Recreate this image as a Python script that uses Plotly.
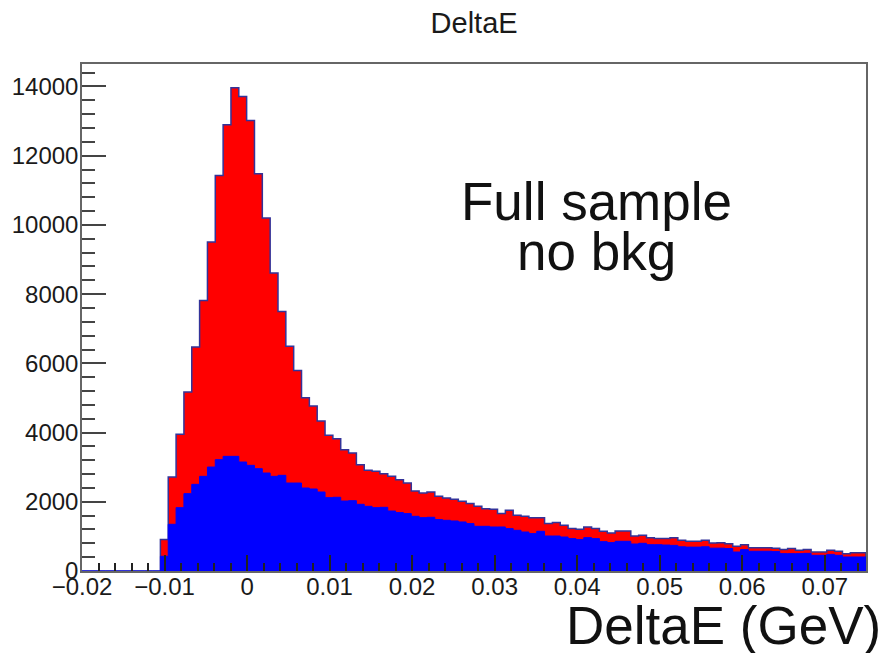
import numpy as np
import plotly.graph_objects as go

# Histogram binning (100 bins from -0.02 to 0.075)
x_min = -0.02
x_max = 0.075
n_bins = 100

# Total (red) bin contents, bins 0..99
total_counts = [0] * 10 + [
    907, 2716, 3949, 5171, 6471, 7819, 9503, 11430, 12894, 13963,
    13712, 13018, 11478, 10197, 8608, 7501, 6491, 5797, 5008, 4767,
    4333, 3920, 3824, 3507, 3408, 3073, 2909, 2880, 2813, 2735,
    2640, 2542, 2311, 2253, 2282, 2158, 2109, 2071, 2013, 1947,
    1869, 1802, 1782, 1658, 1753, 1609, 1580, 1542, 1542, 1369,
    1398, 1320, 1225, 1205, 1272, 1225, 1147, 1098, 1156, 1156,
    1011, 1031, 964, 936, 936, 964, 887, 858, 858, 887,
    809, 815, 790, 713, 761, 675, 675, 675, 660, 618,
    648, 598, 618, 549, 549, 598, 570, 502, 530, 530,
]

# Component (blue) bin contents, bins 0..99
blue_counts = [0] * 10 + [
    425, 1349, 1831, 2235, 2504, 2735, 3004, 3216, 3313, 3313,
    3149, 3053, 2957, 2831, 2735, 2764, 2542, 2542, 2398, 2369,
    2282, 2120, 2130, 2022, 2032, 1927, 1869, 1831, 1840, 1733,
    1687, 1658, 1580, 1542, 1552, 1485, 1465, 1446, 1417, 1369,
    1291, 1291, 1272, 1272, 1225, 1176, 1127, 1080, 1147, 1011,
    1011, 982, 936, 907, 964, 936, 848, 820, 858, 858,
    780, 800, 760, 760, 750, 740, 700, 690, 690, 700,
    660, 660, 648, 549, 618, 570, 570, 570, 560, 502,
    502, 502, 510, 453, 453, 480, 453, 405, 405, 405,
]

x_tick_vals = [-0.02, -0.01, 0, 0.01, 0.02, 0.03, 0.04, 0.05, 0.06, 0.07]
x_tick_text = ["\u22120.02", "\u22120.01", "0", "0.01", "0.02", "0.03", "0.04", "0.05", "0.06", "0.07"]
y_tick_vals = [0, 2000, 4000, 6000, 8000, 10000, 12000, 14000]
y_tick_text = ["0", "2000", "4000", "6000", "8000", "10000", "12000", "14000"]

edges = np.linspace(x_min, x_max, n_bins + 1)


def step_xy(counts):
    c = np.asarray(counts, dtype=float)
    xs = np.concatenate([[edges[0]], edges, [edges[-1]]])
    ys = np.concatenate([[0.0], c, [c[-1]], [0.0]])
    return xs, ys


fig = go.Figure()

xr, yr = step_xy(total_counts)
fig.add_trace(go.Scatter(
    x=xr, y=yr, mode="lines", line_shape="hv",
    line=dict(color="#333399", width=1.5),
    fill="tozeroy", fillcolor="#ff0000", hoverinfo="skip", showlegend=False,
))

xb, yb = step_xy(blue_counts)
fig.add_trace(go.Scatter(
    x=xb, y=yb, mode="lines", line_shape="hv",
    line=dict(color="#0000ff", width=1),
    fill="tozeroy", fillcolor="#0000ff", hoverinfo="skip", showlegend=False,
))

font_family = "Liberation Sans, Arial, Helvetica, sans-serif"

fig.update_layout(
    width=887, height=653,
    margin=dict(l=82, r=21, t=64, b=82),
    paper_bgcolor="white", plot_bgcolor="white",
    font=dict(family=font_family, color="#1a1a1a", size=24),
    title=dict(text="DeltaE", x=0.5345, xanchor="center", y=0.965, yanchor="middle",
               font=dict(size=29, color="#1a1a1a")),
    xaxis=dict(
        range=[x_min, x_max], tickmode="array", tickvals=x_tick_vals, ticktext=x_tick_text,
        ticks="inside", ticklen=16, tickwidth=1.5, tickcolor="#222",
        minor=dict(dtick=0.002, tick0=0, ticks="inside", ticklen=8, tickwidth=1.5, tickcolor="#222"),
        showline=True, linecolor="#666", linewidth=1.5, mirror=True,
        showgrid=False, zeroline=False, tickfont=dict(size=24),
        automargin=False, ticklabelstandoff=-7,
    ),
    yaxis=dict(
        range=[0, 14650], tickmode="array", tickvals=y_tick_vals, ticktext=y_tick_text,
        ticks="inside", ticklen=24, tickwidth=1.5, tickcolor="#444",
        minor=dict(dtick=400, tick0=0, ticks="inside", ticklen=13, tickwidth=1.5, tickcolor="#444"),
        showline=True, linecolor="#666", linewidth=1.5, mirror=True,
        showgrid=False, zeroline=False, tickfont=dict(size=24),
        automargin=False, ticklabelstandoff=-3,
    ),
    annotations=[
        dict(text="Full sample", xref="paper", yref="paper", x=0.656, y=0.728,
             xanchor="center", yanchor="middle", showarrow=False,
             font=dict(size=53, color="#111")),
        dict(text="no bkg", xref="paper", yref="paper", x=0.656, y=0.63,
             xanchor="center", yanchor="middle", showarrow=False,
             font=dict(size=53, color="#111")),
        dict(text="DeltaE (GeV)", xref="paper", yref="paper", x=1, y=0,
             xanchor="right", yanchor="middle", xshift=17, yshift=-54, showarrow=False,
             font=dict(size=53, color="#111")),
    ],
)

fig.write_html(
    "out.html",
    config={"displayModeBar": False},
    post_script="document.body.style.margin='0';document.body.style.overflow='hidden';",
)
